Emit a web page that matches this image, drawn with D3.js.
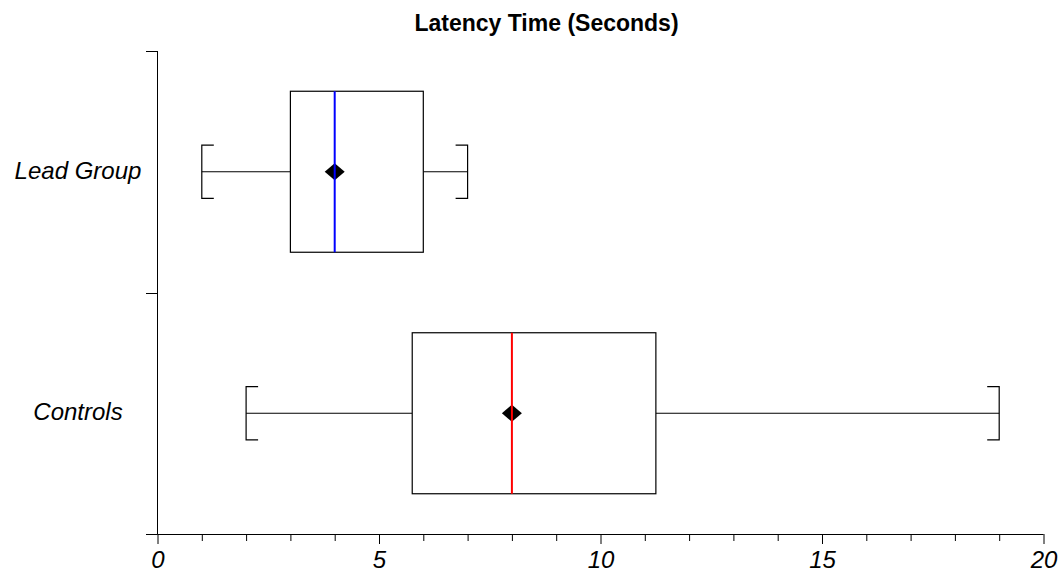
<!DOCTYPE html>
<html><head><meta charset="utf-8">
<script src="https://cdn.jsdelivr.net/npm/d3@7"></script>
<style>
html,body{margin:0;padding:0;background:#fff;}
svg{display:block;font-family:"Liberation Sans",Arial,sans-serif;}
</style></head>
<body><svg id="c" width="1062" height="572"></svg>
<script>
const categories = ["Lead Group", "Controls"];
const minValues = [1, 2];
const q1Values = [3, 5.75];
const medianValues = [4, 8];
const q3Values = [6, 11.25];
const maxValues = [7, 19];
const meanValues = [4, 8];
const medianColors = ["#0000ff", "#ff0000"];
const xTickValues = d3.range(0, 21, 1);
const xTickLabels = ["0", "5", "10", "15", "20"];
const title = "Latency Time (Seconds)";

const svg = d3.select("#c");
const x = d3.scaleLinear().domain([0, 20]).range([157.5, 1043.5]);
const y = d3.scaleBand().domain(categories).range([51, 534]).padding(0);
const bw = y.bandwidth();
const boxH = bw * 2 / 3;
const capH = bw * 0.22;

// title
svg.append("text").attr("x", 546.5).attr("y", 31).attr("text-anchor", "middle")
  .attr("font-weight", "bold").attr("font-size", 23).text(title);

// x axis
const xAxis = d3.axisBottom(x).tickValues(xTickValues).tickSize(7).tickFormat("");
const gx = svg.append("g").attr("transform", "translate(0,534)").call(xAxis);
gx.select(".domain").attr("stroke", "#000").attr("d", `M${x(0)},0.5H${x(20)}`);
gx.selectAll(".tick line").attr("stroke", "#000")
  .attr("y2", d => d % 5 === 0 ? 10 : 7);
gx.selectAll(".tick").filter(d => d % 5 === 0).append("text")
  .attr("y", 34).attr("fill", "#000").attr("font-size", 24).attr("font-style", "italic")
  .attr("font-family", "Liberation Sans, Arial, sans-serif")
  .text(d => xTickLabels[d / 5]);

// y axis
const gy = svg.append("g");
gy.append("line").attr("x1", 157.5).attr("x2", 157.5).attr("y1", 51).attr("y2", 534.5).attr("stroke", "#000");
const yEdges = [y(categories[0]), y(categories[1]), y(categories[1]) + bw];
gy.selectAll("line.t").data(yEdges).join("line").attr("class", "t")
  .attr("x1", 146).attr("x2", 157.5)
  .attr("y1", d => Math.round(d) + 0.5).attr("y2", d => Math.round(d) + 0.5).attr("stroke", "#000");
gy.selectAll("text").data(categories).join("text")
  .attr("x", 78).attr("y", d => y(d) + bw / 2 + 7)
  .attr("text-anchor", "middle").attr("font-size", 24).attr("font-style", "italic")
  .text(d => d);

// boxes
const g = svg.append("g").attr("fill", "none").attr("stroke", "#000").attr("stroke-width", 1.2);
categories.forEach((c, i) => {
  const cy = y(c) + bw / 2;
  // whiskers
  g.append("line").attr("x1", x(minValues[i])).attr("x2", x(q1Values[i])).attr("y1", cy).attr("y2", cy);
  g.append("line").attr("x1", x(q3Values[i])).attr("x2", x(maxValues[i])).attr("y1", cy).attr("y2", cy);
  // caps
  g.append("path").attr("d", `M${x(minValues[i]) + 12},${cy - capH / 2}H${x(minValues[i])}V${cy + capH / 2}H${x(minValues[i]) + 12}`);
  g.append("path").attr("d", `M${x(maxValues[i]) - 12},${cy - capH / 2}H${x(maxValues[i])}V${cy + capH / 2}H${x(maxValues[i]) - 12}`);
  // box
  g.append("rect").attr("x", x(q1Values[i])).attr("y", cy - boxH / 2)
    .attr("width", x(q3Values[i]) - x(q1Values[i])).attr("height", boxH).attr("fill", "#fff");
  // mean diamond
  const mx = x(meanValues[i]);
  svg.append("path").attr("d", `M${mx - 10},${cy}L${mx},${cy - 8.5}L${mx + 10},${cy}L${mx},${cy + 8.5}Z`).attr("fill", "#000");
  // median
  svg.append("line").attr("x1", x(medianValues[i])).attr("x2", x(medianValues[i]))
    .attr("y1", cy - boxH / 2).attr("y2", cy + boxH / 2)
    .attr("stroke", medianColors[i]).attr("stroke-width", 2);
});
</script></body></html>
